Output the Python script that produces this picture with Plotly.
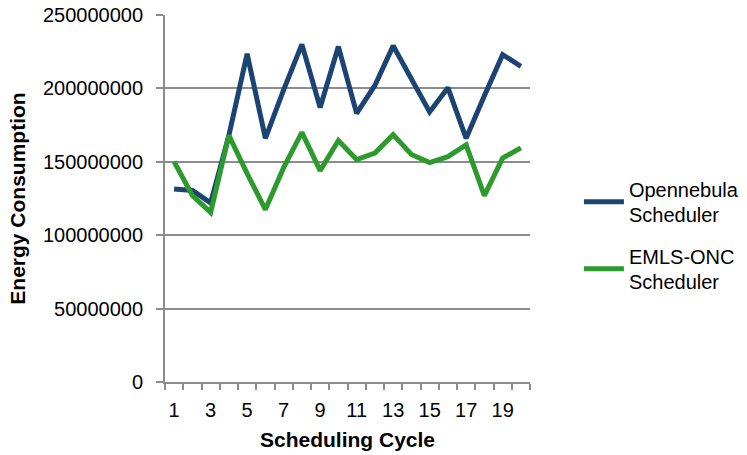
import plotly.graph_objects as go

cycles = list(range(1, 21))
opennebula = [131.5e6, 130.5e6, 122e6, 168e6, 223.5e6, 166e6, 199e6, 230e6, 187e6, 228.5e6,
              183e6, 202e6, 229e6, 206e6, 184e6, 200.5e6, 166e6, 195e6, 223e6, 215e6]
emls_onc = [150e6, 127e6, 115.5e6, 168e6, 142e6, 117.5e6, 146e6, 170e6, 144e6, 164.5e6,
            151.5e6, 156e6, 168.5e6, 155e6, 149.5e6, 153.5e6, 161.5e6, 127e6, 152.5e6, 159.5e6]
x_tick_labels = [str(v) for v in range(1, 21, 2)]
y_ticks = [0, 50000000, 100000000, 150000000, 200000000, 250000000]

FONT = "Liberation Sans, Arial, sans-serif"
GRID = "#8c8c8c"

fig = go.Figure()
fig.add_trace(go.Scatter(x=cycles, y=opennebula, mode="lines", name="Opennebula<br>Scheduler",
                         legendgroup="a", line=dict(color="#1B4472", width=5)))
fig.add_trace(go.Scatter(x=cycles, y=emls_onc, mode="lines", name="EMLS-ONC<br>Scheduler",
                         legendgroup="b", line=dict(color="#2C9A2C", width=5)))

fig.update_layout(
    width=747, height=455,
    margin=dict(l=165, r=217, t=15, b=73, autoexpand=False),
    paper_bgcolor="white", plot_bgcolor="white",
    font=dict(family=FONT, size=20, color="#000000"),
    showlegend=True,
    legend=dict(xref="container", x=0.775, y=0.40, xanchor="left", yanchor="middle",
                font=dict(size=20), traceorder="grouped", tracegroupgap=12,
                itemwidth=40, bgcolor="rgba(0,0,0,0)"),
    xaxis=dict(
        range=[0.5, 20.5], tickmode="array", tickvals=list(range(1, 21, 2)),
        ticktext=x_tick_labels, ticks="", showgrid=False, zeroline=False,
        showline=True, linecolor=GRID, linewidth=2, automargin=False,
        ticklabelstandoff=9,
        minor=dict(tickmode="linear", tick0=0.5, dtick=1, ticks="outside",
                   ticklen=6, tickcolor=GRID, tickwidth=1.5, showgrid=False),
        title=dict(text="<b>Scheduling Cycle</b>", font=dict(size=21), standoff=12),
        tickfont=dict(size=20),
    ),
    yaxis=dict(
        range=[0, 250000000], tickmode="array", tickvals=y_ticks,
        ticktext=[str(v) for v in y_ticks], ticks="outside", ticklen=7,
        tickcolor=GRID, tickwidth=1.5, automargin=False,
        ticklabelstandoff=9,
        showgrid=True, gridcolor=GRID, gridwidth=2, zeroline=False,
        showline=True, linecolor=GRID, linewidth=2,
        title=dict(text="<b>Energy Consumption</b>", font=dict(size=21), standoff=12),
        tickfont=dict(size=20),
    ),
)

fig.write_html("out.html")
